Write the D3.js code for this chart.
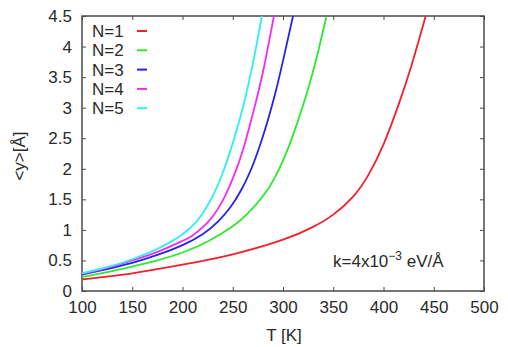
<!DOCTYPE html>
<html><head><meta charset="utf-8">
<script src="https://cdn.jsdelivr.net/npm/d3@7"></script>
<style>body{margin:0;background:#fff}svg{display:block;font-family:"Liberation Sans",Arial,sans-serif}</style>
</head><body><svg id="c" width="508" height="347"></svg>
<script>
const seriesNames = ["N=1","N=2","N=3","N=4","N=5"];
const seriesColors = ["#f0202c","#2ee82e","#2424e6","#f22cf2","#2ef0f0"];
const n1 = [[100,0.19],[150,0.29],[200,0.43],[250,0.60],[300,0.84],[330,1.05],[350,1.25],[370,1.55],[385,1.9],[400,2.4],[415,3.05],[428,3.7],[442,4.5]];
const n2 = [[100,0.23],[125,0.31],[150,0.40],[175,0.50],[200,0.63],[225,0.81],[250,1.06],[265,1.27],[280,1.55],[292,1.86],[302,2.21],[311,2.6],[320,3.04],[328,3.48],[336,3.99],[343,4.48]];
const n3 = [[100,0.27],[125,0.36],[150,0.46],[175,0.59],[200,0.75],[220,0.93],[235,1.13],[248,1.38],[258,1.64],[268,1.98],[277,2.38],[285,2.80],[293,3.28],[301,3.84],[310,4.5]];
const n4 = [[100,0.28],[125,0.38],[150,0.50],[175,0.64],[200,0.82],[210,0.91],[220,1.04],[230,1.22],[240,1.48],[250,1.84],[260,2.3],[270,2.9],[280,3.58],[291,4.5]];
const n5 = [[100,0.29],[125,0.39],[150,0.52],[175,0.69],[190,0.82],[200,0.93],[210,1.07],[220,1.27],[230,1.55],[240,1.93],[250,2.42],[260,3.0],[270,3.72],[279,4.5]];
const seriesData = [n1,n2,n3,n4,n5];
const xTicks = [100,150,200,250,300,350,400,450,500];
const yTicks = [0,0.5,1,1.5,2,2.5,3,3.5,4,4.5];

const svg = d3.select("#c");
const L=82, R=484, T=16, B=291;
const x = d3.scaleLinear().domain([100,500]).range([L,R]);
const y = d3.scaleLinear().domain([0,4.5]).range([B,T]);
const axCol="#4a4a4a", txtCol="#2a2a2a", fs=17;

svg.append("clipPath").attr("id","cp").append("rect").attr("x",L).attr("y",T).attr("width",R-L).attr("height",B-T);

const g = svg.append("g");
g.append("g").attr("transform",`translate(0,${B})`).call(d3.axisBottom(x).tickValues(xTicks).tickSize(-4).tickPadding(10).tickFormat(d3.format("d")));
g.append("g").attr("transform",`translate(0,${T})`).call(d3.axisTop(x).tickValues(xTicks).tickSize(-4).tickFormat(""));
g.append("g").attr("transform",`translate(${L},0)`).call(d3.axisLeft(y).tickValues(yTicks).tickSize(-4).tickPadding(10).tickFormat(d=>String(d)));
g.append("g").attr("transform",`translate(${R},0)`).call(d3.axisRight(y).tickValues(yTicks).tickSize(-4).tickFormat(""));
g.selectAll(".domain").remove();
g.selectAll(".tick line").attr("stroke",axCol).attr("stroke-width",1);
g.selectAll(".tick text").attr("fill",txtCol).attr("font-size",fs).attr("font-family","Liberation Sans, Arial, sans-serif");
svg.append("rect").attr("x",L).attr("y",T).attr("width",R-L).attr("height",B-T).attr("fill","none").attr("stroke",axCol).attr("stroke-width",1.5);

const line = d3.line().x(d=>x(d[0])).y(d=>y(d[1])).curve(d3.curveNatural);
svg.append("g").attr("clip-path","url(#cp)").selectAll("path").data(seriesData).join("path")
  .attr("d",line).attr("fill","none").attr("stroke",(d,i)=>seriesColors[i]).attr("stroke-width",1.8);

const lg = svg.append("g");
seriesNames.forEach((n,i)=>{
  const cy = 31 + i*19.3;
  lg.append("text").attr("x",92).attr("y",cy+6).attr("font-size",fs).attr("fill",txtCol).text(n);
  lg.append("line").attr("x1",137).attr("x2",147).attr("y1",cy).attr("y2",cy).attr("stroke",seriesColors[i]).attr("stroke-width",2);
});

svg.append("text").attr("x",284).attr("y",341).attr("text-anchor","middle").attr("font-size",fs).attr("fill",txtCol).text("T [K]");
svg.append("text").attr("transform","translate(25,156) rotate(-90)").attr("text-anchor","middle").attr("font-size",fs).attr("fill",txtCol).text("<y>[Å]");

const an = svg.append("text").attr("x",333).attr("y",267).attr("font-size",fs).attr("fill",txtCol);
an.append("tspan").text("k=4x10");
an.append("tspan").attr("dy",-7).attr("font-size",12).text("−3");
an.append("tspan").attr("dy",7).text(" eV/Å");
</script></body></html>
